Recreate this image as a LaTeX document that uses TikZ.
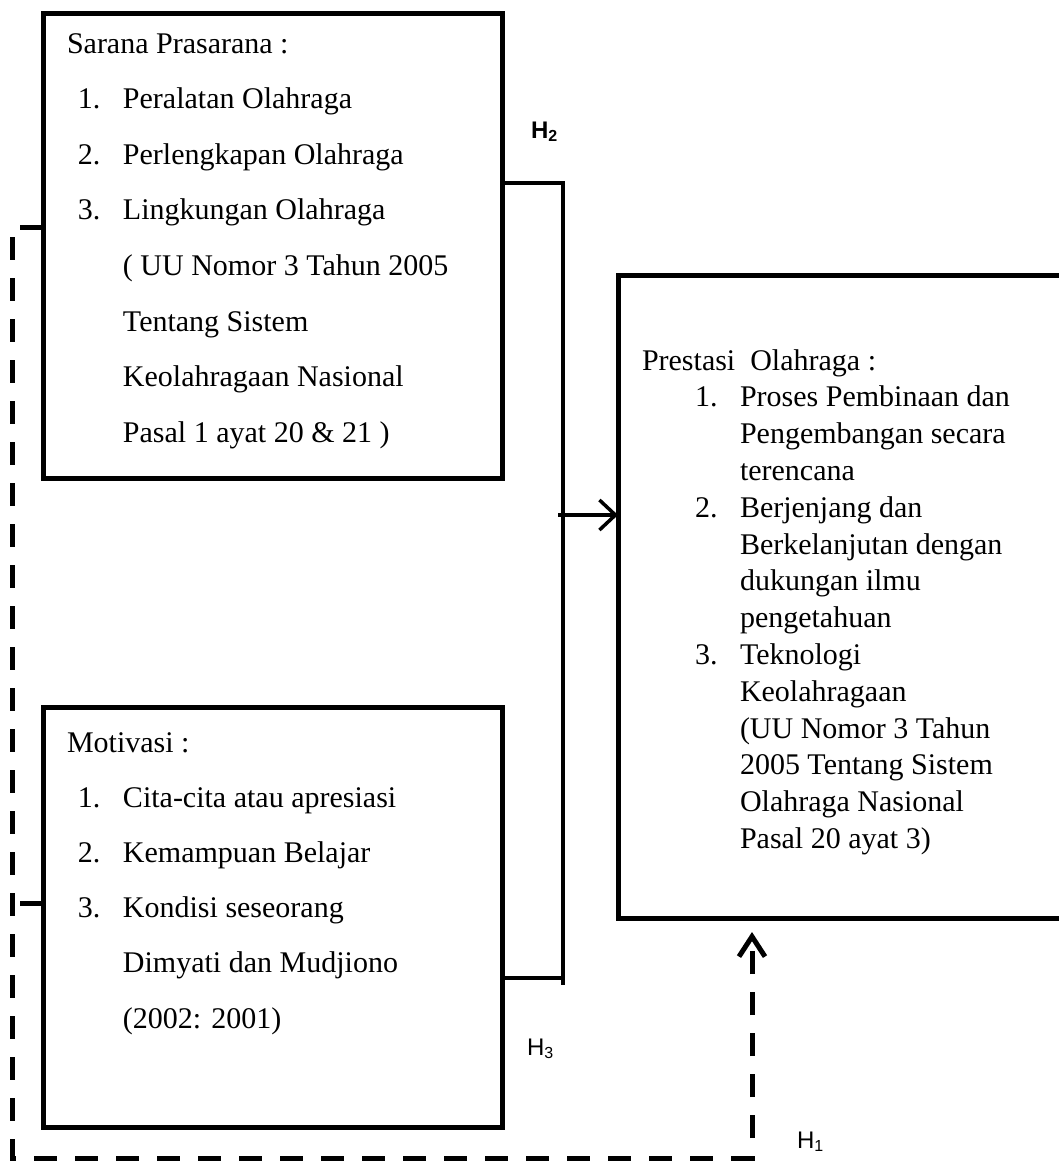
\documentclass[tikz,border=0pt]{standalone}
\usepackage{fontspec}
\setmainfont{Liberation Serif}
\newfontfamily\hsans{Liberation Sans}
\usetikzlibrary{arrows.meta}
\newcommand\lit[2]{\makebox[28pt][l]{\hspace{5.5pt}#1}#2}
\newcommand\rit[2]{\makebox[49pt][l]{\hspace{26.5pt}#1}#2}
\begin{document}
\begin{tikzpicture}[x=0.5pt,y=-0.5pt,
  box/.style={draw,line width=2.5pt,rectangle,inner sep=0pt,outer sep=0pt,anchor=north west},
  txt/.style={inner sep=0pt,outer sep=0pt,anchor=base west},
  conn/.style={line width=1.75pt},
  dashline/.style={line width=2.5pt,dash pattern=on 11.5pt off 9pt},
  lab/.style={inner sep=0pt,outer sep=0pt,anchor=base west,font=\hsans\fontsize{12}{14}\selectfont}]
\useasboundingbox (0,0) rectangle (1059,1162);

% boxes
\node[box,minimum width=229.5pt,minimum height=232.5pt] (top) at (43,13) {};
\node[box,minimum width=229.5pt,minimum height=210pt] (bot) at (43,707) {};
\node[box,minimum width=226pt,minimum height=321.5pt] (right) at (618,275) {};

% texts
\node[txt] (toptext) at (67,53) {\fontsize{15}{27.8}\selectfont
\begin{tabular}[t]{@{}l@{}}
Sarana Prasarana :\\
\lit{1.}{Peralatan Olahraga}\\
\lit{2.}{Perlengkapan Olahraga}\\
\lit{3.}{Lingkungan Olahraga}\\
\lit{}{( UU Nomor 3 Tahun 2005}\\
\lit{}{Tentang Sistem}\\
\lit{}{Keolahragaan Nasional}\\
\lit{}{Pasal 1 ayat 20 \& 21 )}
\end{tabular}};

\node[txt] (bottext) at (67,752) {\fontsize{15}{27.6}\selectfont
\begin{tabular}[t]{@{}l@{}}
Motivasi :\\
\lit{1.}{Cita-cita atau apresiasi}\\
\lit{2.}{Kemampuan Belajar}\\
\lit{3.}{Kondisi seseorang}\\
\lit{}{Dimyati dan Mudjiono}\\
\lit{}{(2002: 2001)}
\end{tabular}};

\node[txt] (righttext) at (642,370) {\fontsize{15}{18.4}\selectfont
\begin{tabular}[t]{@{}l@{}}
Prestasi~ Olahraga :\\
\rit{1.}{Proses Pembinaan dan}\\
\rit{}{Pengembangan secara}\\
\rit{}{terencana}\\
\rit{2.}{Berjenjang dan}\\
\rit{}{Berkelanjutan dengan}\\
\rit{}{dukungan ilmu}\\
\rit{}{pengetahuan}\\
\rit{3.}{Teknologi}\\
\rit{}{Keolahragaan}\\
\rit{}{(UU Nomor 3 Tahun}\\
\rit{}{2005 Tentang Sistem}\\
\rit{}{Olahraga Nasional}\\
\rit{}{Pasal 20 ayat 3)}
\end{tabular}};

% labels
\node[lab] (h2) at (531,138) {\bfseries H\textsubscript{2}};
\node[lab] (h3) at (527,1055) {H\textsubscript{3}};
\node[lab] (h1) at (797,1148) {H\textsubscript{1}};

% joint connectors
\coordinate (jtop) at (563,183);
\coordinate (jend) at (563,985);
\coordinate (jbot) at (563,978);
\coordinate (astart) at (558,515);
\draw[conn] (top.east |- jtop) -- (jtop) -- (jend);
\draw[conn] (bot.east |- jbot) -- (jbot);
\draw[conn,-{Straight Barb[length=8pt,width=15pt]}] (astart) -- (right.west |- astart);

% dashed H1 path
\coordinate (d1) at (12,227);
\coordinate (d2) at (12,1158);
\coordinate (d3) at (752,1158);
\draw[dashline,-{Straight Barb[length=10pt,width=13pt]},shorten >=7pt]
  (top.west |- d1) -- (d1) -- (d2) -- (d3) -- (d3 |- right.south);
\coordinate (s2) at (20,903);
\draw[line width=2.5pt] (bot.west |- s2) -- (s2);
\end{tikzpicture}
\end{document}
